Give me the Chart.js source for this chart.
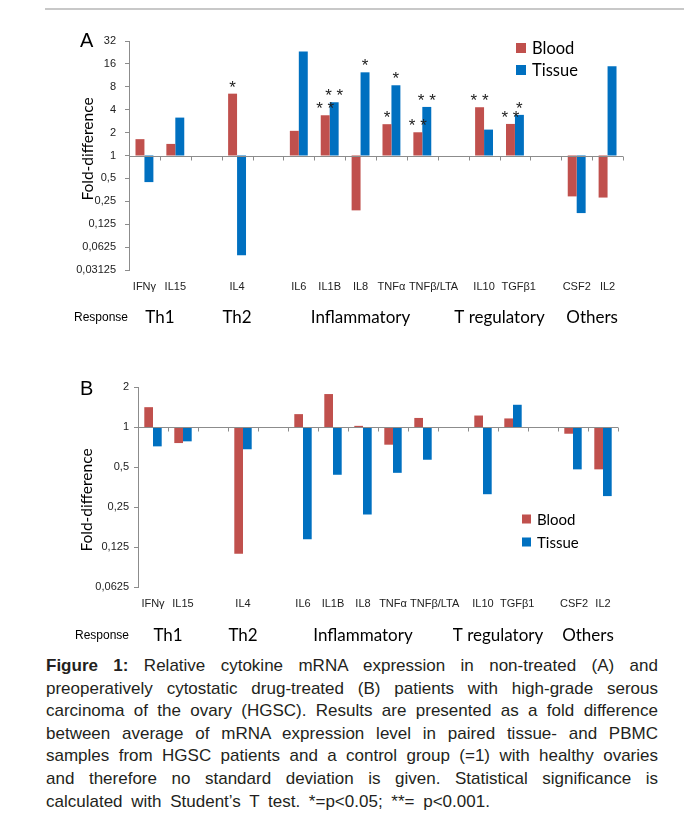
<!DOCTYPE html>
<html><head><meta charset="utf-8">
<script src="https://cdn.jsdelivr.net/npm/chart.js@4.4.1/dist/chart.umd.min.js"></script>
<style>
html,body{margin:0;padding:0;background:#fff;}
body{width:684px;height:818px;position:relative;overflow:hidden;}
canvas{position:absolute;left:0;}
#cA{top:0;}
#cB{top:350px;}
#topline{position:absolute;left:45px;top:8px;width:639px;height:2px;background:#c8c8c8;}
#cap{position:absolute;left:46px;top:655px;width:612px;font-family:"Liberation Sans",Arial,sans-serif;font-size:17px;line-height:22.6px;color:#231f20;}
#cap .ln{display:block;text-align:justify;text-align-last:justify;white-space:nowrap;}
#cap .last{text-align-last:left;word-spacing:4px;}
</style>
</head><body>
<div id="topline"></div>
<canvas id="cA" width="684" height="330"></canvas>
<canvas id="cB" width="684" height="300"></canvas>
<div id="cap">
<span class="ln"><b>Figure 1:</b> Relative cytokine mRNA expression in non-treated (A) and</span>
<span class="ln">preoperatively cytostatic drug-treated (B) patients with high-grade serous</span>
<span class="ln">carcinoma of the ovary (HGSC). Results are presented as a fold difference</span>
<span class="ln">between average of mRNA expression level in paired tissue- and PBMC</span>
<span class="ln">samples from HGSC patients and a control group (=1) with healthy ovaries</span>
<span class="ln">and therefore no standard deviation is given. Statistical significance is</span>
<span class="ln last">calculated with Student’s T test. *=p&lt;0.05; **= p&lt;0.001.</span>
</div>
<script>
// ---------- DATA ----------
const categories = ['IFNγ','IL15','','IL4','','IL6','IL1B','IL8','TNFα','TNFβ/LTA','','IL10','TGFβ1','','CSF2','IL2'];
const seriesNames = ['Blood','Tissue'];
// Panel A: non-treated
const bloodA  = [1.64, 1.42, null, 6.5,    null, 2.11, 3.38, 0.19, 2.58, 2.02, null, 4.31, 2.6,  null, 0.29,  0.28];
const tissueA = [0.447,3.15, null, 0.0487, null, 23.2, 5.01, 12.4, 8.38, 4.35, null, 2.19, 3.42, null, 0.175, 14.9];
const sigBloodA  = ['','','','*','','','**','','*','**','','**','**','','',''];
const sigTissueA = ['','','','','','','**','*','*','**','','','*','','',''];
// Panel B: cytostatic drug-treated
const bloodB  = [1.41, 0.757, null, 0.111, null, 1.25,  1.77,  1.02, 0.736, 1.17,  null, 1.22,  1.16, null, 0.89, 0.48];
const tissueB = [0.715,0.78,  null, 0.68,  null, 0.143, 0.437, 0.22, 0.452, 0.567, null, 0.312, 1.47, null, 0.48, 0.302];
// tick values
const ticksA = [0.03125, 0.0625, 0.125, 0.25, 0.5, 1, 2, 4, 8, 16, 32];
const ticksB = [0.0625, 0.125, 0.25, 0.5, 1, 2];
// response groups (category index ranges)
const groupNames = ['Th1','Th2','Inflammatory','T regulatory','Others'];
const groupFrom  = [0, 3, 5, 11, 14];
const groupTo    = [1, 3, 9, 12, 15];
const colors = ['#C0504D', '#0070C0'];

// ---------- DRAWING ----------
const fmt = v => String(v).replace('.', ',');
const SANS = '"Liberation Sans", Arial, sans-serif';
const CAL = 'Lato, "Open Sans", sans-serif';

const decor = {
  id: 'decor',
  afterDatasetsDraw(chart, args, o) {
    const ctx = chart.ctx, xs = chart.scales.x, ys = chart.scales.y;
    const y1 = Math.round(ys.getPixelForValue(1)) + 0.5;
    const slot = xs.getPixelForValue(1) - xs.getPixelForValue(0);
    ctx.save();
    ctx.strokeStyle = '#8c8c8c'; ctx.lineWidth = 1;
    ctx.beginPath();
    ctx.moveTo(xs.left, y1); ctx.lineTo(xs.right, y1);
    for (let i = 0; i < categories.length; i++) {
      const px = Math.round(xs.getPixelForValue(i) + slot / 2) + 0.5;
      ctx.moveTo(px, y1); ctx.lineTo(px, y1 + 4);
    }
    ctx.stroke();
    // significance markers
    if (o.sig) {
      ctx.fillStyle = '#222';
      ctx.font = '17px ' + SANS;
      ctx.textAlign = 'center'; ctx.textBaseline = 'alphabetic';
      o.sig.forEach((arr, d) => {
        const meta = chart.getDatasetMeta(d);
        arr.forEach((s, i) => {
          if (!s) return;
          const el = meta.data[i];
          const top = Math.min(el.y, el.base);
          ctx.fillText(s.split('').join(' '), el.x, top - 1);
        });
      });
    }
    ctx.restore();
  },
  afterDraw(chart, args, o) {
    const ctx = chart.ctx, xs = chart.scales.x, ys = chart.scales.y;
    const slot = xs.getPixelForValue(1) - xs.getPixelForValue(0);
    ctx.save();
    // category labels (long labels start at slot edge, others centred)
    ctx.fillStyle = '#222';
    ctx.font = '11px ' + SANS;
    ctx.textBaseline = 'middle';
    categories.forEach((c, i) => {
      if (!c) return;
      const cx = xs.getPixelForValue(i);
      const w = ctx.measureText(c).width;
      if (w > slot - 2) { ctx.textAlign = 'left'; ctx.fillText(c, cx - slot / 2 + 2, o.catY); }
      else { ctx.textAlign = 'center'; ctx.fillText(c, cx, o.catY); }
    });
    // panel letter
    ctx.fillStyle = '#000';
    ctx.font = '20px ' + SANS;
    ctx.textAlign = 'left'; ctx.textBaseline = 'alphabetic';
    ctx.fillText(o.letter, o.letterX, o.letterY);
    // y title
    ctx.save();
    ctx.translate(o.titleX, o.titleY);
    ctx.rotate(-Math.PI / 2);
    ctx.font = '15.5px ' + CAL;
    ctx.textAlign = 'center'; ctx.textBaseline = 'middle';
    ctx.fillText('Fold-difference', 0, 0);
    ctx.restore();
    // legend
    ctx.font = o.legFont + 'px ' + CAL;
    ctx.textBaseline = 'middle'; ctx.textAlign = 'left';
    chart.data.datasets.forEach((ds, d) => {
      const yy = o.legY + d * o.legGap;
      ctx.fillStyle = ds.backgroundColor;
      ctx.fillRect(o.legX, yy - o.legBox / 2, o.legBox, o.legBox);
      ctx.fillStyle = '#000';
      ctx.fillText(ds.label, o.legX + o.legBox + 6, yy + 1);
    });
    // response row
    ctx.fillStyle = '#000';
    ctx.font = '12px ' + SANS;
    ctx.textBaseline = 'middle';
    ctx.fillText('Response', o.respX, o.respY);
    ctx.font = '17px ' + CAL;
    ctx.textAlign = 'center';
    groupNames.forEach((g, k) => {
      const cx = (xs.getPixelForValue(groupFrom[k]) + xs.getPixelForValue(groupTo[k])) / 2;
      ctx.fillText(g, cx, o.respY);
    });
    ctx.restore();
  }
};

function makeChart(id, blood, tissue, ticks, L) {
  const H = document.getElementById(id).height;
  return new Chart(document.getElementById(id), {
    type: 'bar',
    data: {
      labels: categories,
      datasets: [
        { label: seriesNames[0], data: blood.map(v => v == null ? null : [1, v]), backgroundColor: colors[0] },
        { label: seriesNames[1], data: tissue.map(v => v == null ? null : [1, v]), backgroundColor: colors[1] }
      ]
    },
    options: {
      responsive: false, animation: false, events: [],
      datasets: { bar: { categoryPercentage: L.catPct, barPercentage: 1.0 } },
      layout: { padding: { left: 0, top: L.top, right: 684 - L.right, bottom: 0 } },
      plugins: { legend: { display: false }, tooltip: { enabled: false }, decor: L.decor },
      scales: {
        x: {
          grid: { display: false, drawTicks: false },
          border: { display: false },
          ticks: { display: false },
          afterFit: s => { s.height = H - L.bottom; }
        },
        y: {
          type: 'logarithmic', min: ticks[0], max: ticks[ticks.length - 1],
          afterBuildTicks: s => { s.ticks = ticks.map(v => ({ value: v })); },
          afterFit: s => { s.width = L.left; },
          grid: { drawOnChartArea: false, drawTicks: true, tickLength: 4, color: '#8c8c8c' },
          border: { display: true, color: '#8c8c8c' },
          ticks: { padding: L.yPad, color: '#222', callback: v => fmt(v),
                   font: { family: SANS, size: 11 } }
        }
      }
    },
    plugins: [decor]
  });
}

makeChart('cA', bloodA, tissueA, ticksA, {
  left: 129, right: 623, top: 41, bottom: 270, catPct: 0.58, yPad: 9,
  decor: { sig: [sigBloodA, sigTissueA], catY: 287, letter: 'A', letterX: 80, letterY: 47,
           titleX: 88, titleY: 149, legX: 516, legY: 48, legGap: 22, legBox: 10, legFont: 16.5,
           respX: 74, respY: 318 }
});
makeChart('cB', bloodB, tissueB, ticksB, {
  left: 138, right: 618, top: 37, bottom: 237, catPct: 0.58, yPad: 5,
  decor: { sig: null, catY: 254, letter: 'B', letterX: 80, letterY: 45,
           titleX: 87, titleY: 150, legX: 522, legY: 169, legGap: 23, legBox: 9, legFont: 15,
           respX: 75, respY: 286 }
});
</script>
</body></html>
